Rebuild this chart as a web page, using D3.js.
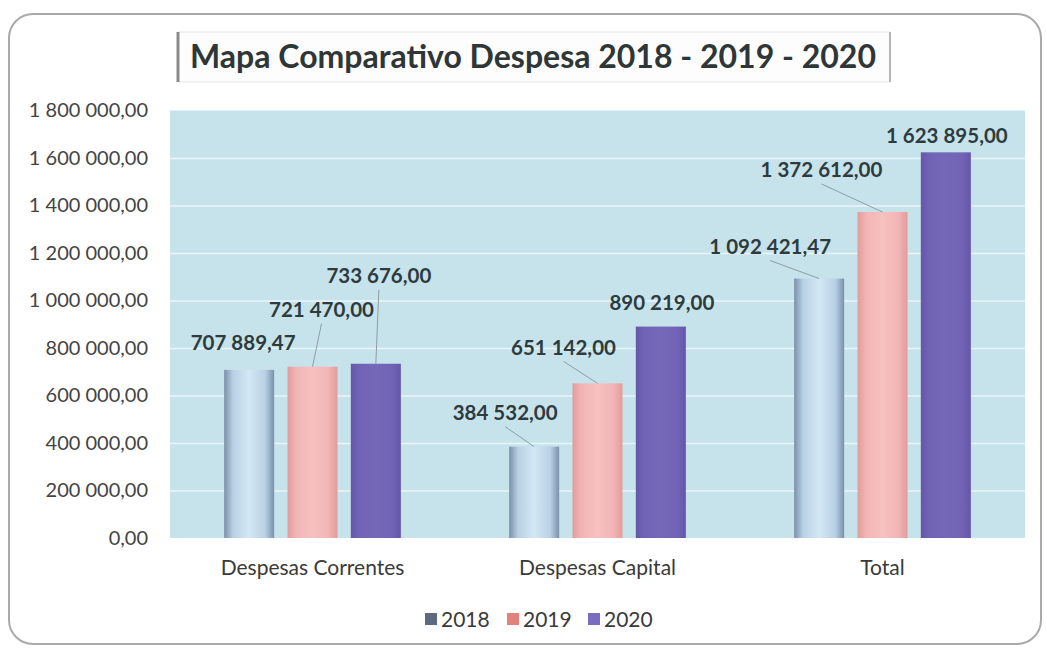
<!DOCTYPE html>
<html>
<head>
<meta charset="utf-8">
<script src="https://cdn.jsdelivr.net/npm/d3@7"></script>
<style>
  body { margin: 0; background: #fff; }
  svg { display: block; font-family: Lato, "Open Sans", sans-serif; }
</style>
</head>
<body>
<div id="chart"></div>
<script>
// data
var categories = ["Despesas Correntes", "Despesas Capital", "Total"];
var years = ["2018", "2019", "2020"];
var values2018 = [707889.47, 384532.00, 1092421.47];
var values2019 = [721470.00, 651142.00, 1372612.00];
var values2020 = [733676.00, 890219.00, 1623895.00];
var yTicks = [0, 200000, 400000, 600000, 800000, 1000000, 1200000, 1400000, 1600000, 1800000];
var title = "Mapa Comparativo Despesa 2018 - 2019 - 2020";

// label placement relative to bar top centre [dx, dy, leader]
var labelPos = {
  "2018": [[-6, -27, false], [-29, -34, true], [-49, -32, true]],
  "2019": [[9, -57, true], [-34, -36, true], [-61, -42, true]],
  "2020": [[3, -88, true], [1, -24, false], [1, -17, false]]
};

var width = 1047, height = 648,
    margin = { top: 110.5, right: 22, bottom: 110, left: 170 },
    plotW = width - margin.left - margin.right,
    plotH = height - margin.top - margin.bottom;

var series = years.map(function (y, i) {
  return { year: y, values: [values2018, values2019, values2020][i] };
});

var pt = d3.formatLocale({ decimal: ",", thousands: "\u00a0", grouping: [3], currency: ["", ""] });
var fmt = pt.format(",.2f");

var svg = d3.select("#chart").append("svg")
    .attr("width", width)
    .attr("height", height);

// gradients for the bars
var defs = svg.append("defs");
var grads = {
  "2018": ["#7a90ab", "#b9d1e5", "#d3e7f4", "#b9d1e5", "#7a90ab"],
  "2019": ["#e39b9b", "#f2b5b5", "#f6c1c0", "#f2b5b5", "#e39b9b"],
  "2020": ["#6656aa", "#7164b6", "#7568b8", "#7164b6", "#6656aa"]
};
var legendColors = { "2018": "#5e6a80", "2019": "#e1827c", "2020": "#7a6cc0" };
years.forEach(function (y) {
  var g = defs.append("linearGradient").attr("id", "g" + y)
      .attr("x1", "0%").attr("x2", "100%").attr("y1", "0%").attr("y2", "0%");
  [0, 18, 50, 82, 100].forEach(function (o, i) {
    g.append("stop").attr("offset", o + "%").attr("stop-color", grads[y][i]);
  });
});

// outer frame
svg.append("rect")
    .attr("x", 9).attr("y", 14).attr("width", 1032).attr("height", 630)
    .attr("rx", 24)
    .attr("fill", "#fff").attr("stroke", "#a9a9a9").attr("stroke-width", 2);

// title box
var tb = svg.append("g");
tb.append("rect").attr("x", 178).attr("y", 32).attr("width", 712).attr("height", 50)
    .attr("fill", "#fdfdfd").attr("stroke", "#e6e6e6");
tb.append("line").attr("x1", 178).attr("x2", 178).attr("y1", 32).attr("y2", 82)
    .attr("stroke", "#8a8a8a").attr("stroke-width", 3);
tb.append("line").attr("x1", 890).attr("x2", 890).attr("y1", 32).attr("y2", 82)
    .attr("stroke", "#b5b5b5").attr("stroke-width", 2);
tb.append("text").attr("x", 533).attr("y", 68)
    .attr("text-anchor", "middle")
    .attr("font-size", "32px").attr("font-weight", "bold")
    .attr("fill", "#2f3638")
    .text(title);

var g = svg.append("g").attr("transform", "translate(" + margin.left + "," + margin.top + ")");

var x0 = d3.scaleBand().domain(categories).range([0, plotW]).paddingInner(0.38).paddingOuter(0.19);
var x1 = d3.scaleBand().domain(years).range([0, x0.bandwidth()]).paddingInner(0.21);
var y = d3.scaleLinear().domain([0, 1800000]).range([plotH, 0]);

g.append("rect").attr("width", plotW).attr("height", plotH).attr("fill", "#c6e3ec");

// grid
g.append("g").attr("class", "grid")
    .call(d3.axisLeft(y).tickValues(yTicks.slice(1, -1)).tickSize(-plotW).tickFormat(""))
    .call(function (s) { s.select(".domain").remove(); })
    .selectAll("line").attr("stroke", "#eaf5f8").attr("stroke-width", 1.5);

// y axis labels
g.append("g")
    .call(d3.axisLeft(y).tickValues(yTicks).tickSize(0).tickPadding(22).tickFormat(fmt))
    .call(function (s) { s.select(".domain").remove(); })
    .selectAll("text").attr("font-size", "20px").attr("fill", "#444").attr("font-family", "Lato, sans-serif");

// x axis labels
g.append("g").attr("transform", "translate(0," + plotH + ")")
    .call(d3.axisBottom(x0).tickSize(0).tickPadding(22))
    .call(function (s) { s.select(".domain").remove(); })
    .selectAll("text").attr("font-size", "21px").attr("fill", "#3a3a3a").attr("font-family", "Lato, sans-serif");

// bars
var groups = g.selectAll(".grp").data(series).enter().append("g").attr("class", "grp");
groups.selectAll("rect").data(function (s) {
      return s.values.map(function (v, i) { return { year: s.year, cat: categories[i], v: v, i: i }; });
    }).enter().append("rect")
    .attr("x", function (d) { return x0(d.cat) + x1(d.year); })
    .attr("width", x1.bandwidth())
    .attr("y", function (d) { return y(d.v); })
    .attr("height", function (d) { return plotH - y(d.v); })
    .attr("fill", function (d) { return "url(#g" + d.year + ")"; });

// labels and leader lines
var labels = [];
series.forEach(function (s) {
  s.values.forEach(function (v, i) {
    var p = labelPos[s.year][i];
    var bx = x0(categories[i]) + x1(s.year) + x1.bandwidth() / 2, by = y(v);
    labels.push({ bx: bx, by: by, lx: bx + p[0], ly: by + p[1], lead: p[2], v: v });
  });
});
g.selectAll(".lead").data(labels.filter(function (d) { return d.lead; })).enter().append("line")
    .attr("x1", function (d) { return d.lx; }).attr("y1", function (d) { return d.ly + 14; })
    .attr("x2", function (d) { return d.bx; }).attr("y2", function (d) { return d.by; })
    .attr("stroke", "#8e9ea3").attr("stroke-width", 1);
g.selectAll(".lbl").data(labels).enter().append("text")
    .attr("x", function (d) { return d.lx; })
    .attr("y", function (d) { return d.ly; })
    .attr("dy", "0.36em")
    .attr("text-anchor", "middle")
    .attr("font-size", "20.5px").attr("font-weight", "bold").attr("fill", "#2e3b3e")
    .text(function (d) { return fmt(d.v); });

// legend
var legX = [425, 507, 588];
var leg = svg.selectAll(".leg").data(years).enter().append("g")
    .attr("transform", function (d, i) { return "translate(" + legX[i] + ",619)"; });
leg.append("rect").attr("x", 0).attr("y", -6).attr("width", 12).attr("height", 12)
    .attr("fill", function (d) { return legendColors[d]; });
leg.append("text").attr("x", 16).attr("dy", "0.36em")
    .attr("font-size", "21px").attr("fill", "#3a3a3a")
    .text(function (d) { return d; });
</script>
</body>
</html>
